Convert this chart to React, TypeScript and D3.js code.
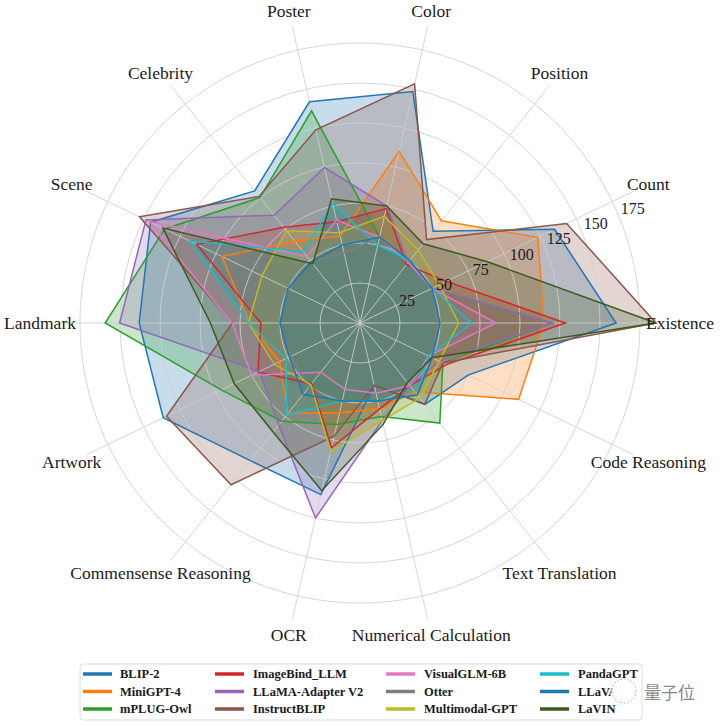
import React from "react";
import * as d3 from "d3";

const categories = [
  "Existence", "Count", "Position", "Color", "Poster", "Celebrity", "Scene",
  "Landmark", "Artwork", "Commensense Reasoning", "OCR", "Numerical Calculation",
  "Text Translation", "Code Reasoning",
];

const models = [
  "BLIP-2", "MiniGPT-4", "mPLUG-Owl", "ImageBind_LLM", "LLaMA-Adapter V2", "InstructBLIP",
  "VisualGLM-6B", "Otter", "Multimodal-GPT", "PandaGPT", "LLaVA", "LaVIN",
];

const colors = [
  "#1f77b4", "#ff7f0e", "#2ca02c", "#d62728", "#9467bd", "#8c564b",
  "#e377c2", "#7f7f7f", "#bcbd22", "#17becf", "#1f77b4", "#3b5b1e",
];

const blip2 = [160, 135, 73.33, 148.33, 141.84, 105.59, 145.25, 138, 136.5, 110, 110, 40, 65, 75];
const minigpt4 = [115, 123.33, 81.67, 110, 55.78, 65.29, 95.75, 69, 55.75, 72.14, 57.5, 55, 55, 110];
const mplugOwl = [120, 50, 50, 55, 136.05, 100.29, 135.5, 159.25, 96.25, 78.57, 65, 60, 80, 57.5];
const imageBind = [128.33, 60, 46.67, 73.33, 64.97, 76.47, 113.25, 62, 70.75, 48.57, 80, 55, 50, 60];
const llamaAdapter = [120, 50, 48.33, 75, 99.66, 86.18, 148.5, 150.25, 69.75, 81.43, 125, 62.5, 50, 55];
const instructBlip = [185, 143.33, 66.67, 153.33, 123.81, 101.18, 153, 79.75, 134.25, 129.29, 72.5, 40, 65, 57.5];
const visualGlm = [85, 50, 48.33, 55, 65.99, 53.24, 146.25, 80, 75.25, 39.29, 42.5, 45, 50, 47.5];
const otter = [48.33, 50, 50, 55, 44.9, 49.12, 50, 50, 48, 50.71, 50, 50, 57.5, 50];
const multimodalGpt = [61.67, 55, 58.33, 68.33, 57.82, 73.82, 68, 69.75, 59.5, 49.29, 82.5, 62.5, 60, 55];
const pandaGpt = [70, 50, 50, 50, 76.53, 57.06, 118, 69.75, 51.25, 73.57, 50, 50, 57.5, 47.5];
const llava = [50, 50, 50, 55, 50, 48.82, 50, 50, 49, 57.14, 50, 50, 57.5, 50];
const lavin = [185, 88.33, 63.33, 75, 79.59, 47.35, 136.75, 93.5, 87.25, 87.14, 107.5, 65, 47.5, 50];

const series = [blip2, minigpt4, mplugOwl, imageBind, llamaAdapter, instructBlip, visualGlm, otter, multimodalGpt, pandaGpt, llava, lavin];

const rTicks = [25, 50, 75, 100, 125, 150, 175];

const W = 720;
const H = 726;
const CX = 360;
const CY = 323;
const R_MAX = 190;
const FONT = "'Liberation Serif', 'Times New Roman', Times, serif";

export default function App() {
  const r = d3.scaleLinear().domain([0, R_MAX]).range([0, 304]);
  const n = categories.length;
  const theta = (i: number) => (i * 2 * Math.PI) / n; // ccw from east
  const line = d3
    .lineRadial<number>()
    .angle((_d, i) => Math.PI / 2 - theta(i))
    .radius((d) => r(d))
    .curve(d3.curveLinearClosed);

  const labelR = 320;
  const tickAng = (22.5 * Math.PI) / 180;

  const legendCols = [
    { hx: 83, tx: 120 },
    { hx: 215, tx: 253 },
    { hx: 386, tx: 424 },
    { hx: 540, tx: 578 },
  ];
  const rowY = [674, 691.5, 709];

  return (
    <svg
      width={W}
      height={H}
      style={{ position: "absolute", left: 0, top: 0, background: "#fff" }}
      fontFamily={FONT}
    >
      <rect x={0} y={0} width={W} height={H} fill="#fff" />
      <g transform={`translate(${CX},${CY})`}>
        {series.map((s, k) => (
          <path key={"f" + k} d={line(s) || ""} fill={colors[k]} fillOpacity={0.25} stroke="none" />
        ))}
        {rTicks.map((t) => (
          <circle key={"c" + t} r={r(t)} fill="none" stroke="#cfcfcf" strokeWidth={1} strokeOpacity={0.85} />
        ))}
        {categories.map((c, i) => (
          <line
            key={"s" + c}
            x1={0}
            y1={0}
            x2={r(R_MAX) * Math.cos(theta(i))}
            y2={-r(R_MAX) * Math.sin(theta(i))}
            stroke="#cfcfcf"
            strokeWidth={1}
            strokeOpacity={0.85}
          />
        ))}
        {series.map((s, k) => (
          <path key={"l" + k} d={line(s) || ""} fill="none" stroke={colors[k]} strokeWidth={1.5} strokeLinejoin="miter" />
        ))}
        {rTicks.map((t) => (
          <text
            key={"t" + t}
            x={r(t) * Math.cos(tickAng) + 2}
            y={-r(t) * Math.sin(tickAng) - 2}
            fontSize={16}
            fill="#1a1a1a"
            textAnchor="start"
          >
            {t}
          </text>
        ))}
        {categories.map((c, i) => (
          <text
            key={"lab" + c}
            x={labelR * Math.cos(theta(i))}
            y={-labelR * Math.sin(theta(i))}
            fontSize={17.5}
            fill="#1a1a1a"
            textAnchor="middle"
            dominantBaseline="central"
          >
            {c}
          </text>
        ))}
      </g>
      <rect x={80} y={664} width={562} height={56} rx={3} fill="#fff" stroke="#dcdcdc" strokeWidth={1} />
      {models.map((m, k) => {
        const col = legendCols[Math.floor(k / 3)];
        const y = rowY[k % 3];
        return (
          <g key={"lg" + m}>
            <line x1={col.hx} x2={col.hx + 29} y1={y} y2={y} stroke={colors[k]} strokeWidth={3.5} />
            <text x={col.tx} y={y} fontSize={12.5} fontWeight="bold" fill="#1a1a1a" dominantBaseline="central">
              {m}
            </text>
          </g>
        );
      })}
      <circle cx={624} cy={691} r={12} fill="#fff" stroke="#999" strokeWidth={0.8} strokeDasharray="1.5,2" />
      <text x={644} y={691} fontSize={17} fill="#8a8a8a" dominantBaseline="central" fontFamily="'Noto Sans CJK SC', sans-serif">
        量子位
      </text>
    </svg>
  );
}
